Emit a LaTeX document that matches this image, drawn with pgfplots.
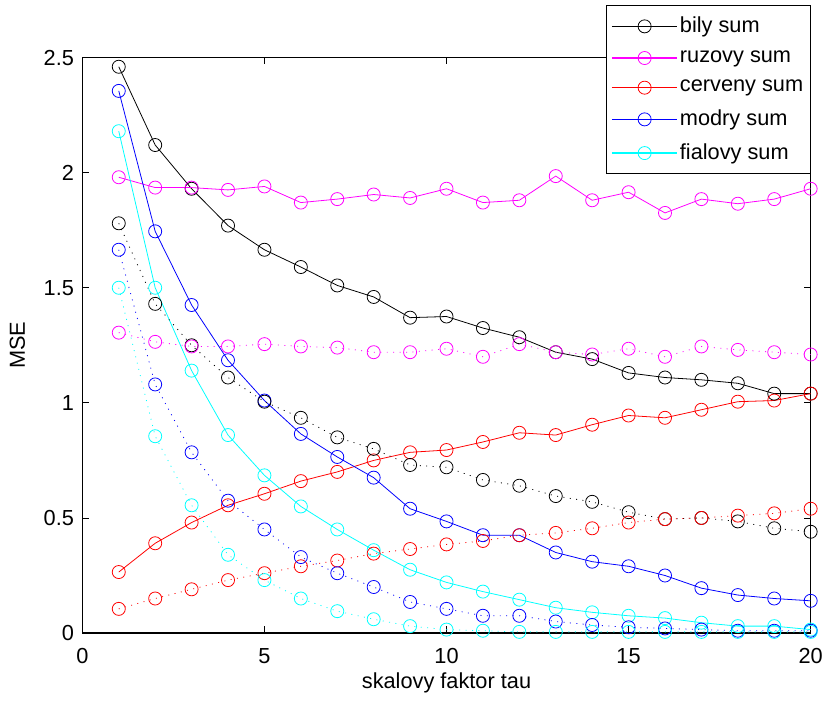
\documentclass[border=0pt]{standalone}
\usepackage{pgfplots}
\pgfplotsset{compat=1.18}
\usepackage{fontspec}
\setmainfont{Liberation Sans}
\definecolor{mmag}{rgb}{1,0,1}
\definecolor{mcyan}{rgb}{0,1,1}
\begin{document}
\fontsize{22}{26}\selectfont
\begin{tikzpicture}
\begin{axis}[
  scale only axis, width=734bp, height=580bp,
  xmin=0, xmax=20, ymin=0, ymax=2.5,
  xtick={0,5,10,15,20}, ytick={0,0.5,1,1.5,2,2.5},
  tick align=inside, tickpos=both, major tick length=7bp,
  axis line style={line width=1.3pt}, tick style={line width=0.8pt, black},
  /pgf/number format/assume math mode=true,
  tick label style={font=\fontsize{22}{26}\selectfont},
  label style={font=\fontsize{22}{26}\selectfont},
  yticklabel style={/pgf/number format/fixed, xshift=-1bp},
  xticklabel style={yshift=-8bp},
  xlabel={skalovy faktor tau}, ylabel={MSE},
  xlabel style={yshift=6bp}, ylabel style={yshift=4bp},
  every axis plot/.append style={line width=0.8pt, mark=o, mark size=6.6pt, mark options={solid, line width=0.8pt}},
  dotty/.style={dash pattern=on 1pt off 5.5pt, forget plot},
  legend cell align=left,
  legend style={at={(rel axis cs:1,1.0914)}, anchor=north east, draw=black, line width=1pt, fill=white,
    inner xsep=5bp, inner ysep=9.5bp, row sep=10.8bp, font=\fontsize{22}{26}\selectfont,
    nodes={inner sep=2bp}},
  legend image code/.code={\draw[solid, line width=1.2pt, mark repeat=2, mark phase=2, mark options={line width=0.8pt}] plot coordinates {(0bp,0bp) (33bp,0bp) (66bp,0bp)};},
]
\addplot[black] coordinates {(1,2.46)(2,2.12)(3,1.93)(4,1.77)(5,1.665)(6,1.59)(7,1.51)(8,1.46)(9,1.37)(10,1.375)(11,1.325)(12,1.285)(13,1.22)(14,1.19)(15,1.13)(16,1.11)(17,1.10)(18,1.085)(19,1.04)(20,1.04)};
\addlegendentry{bily sum}
\addplot[mmag] coordinates {(1,1.98)(2,1.935)(3,1.935)(4,1.925)(5,1.94)(6,1.87)(7,1.885)(8,1.905)(9,1.89)(10,1.93)(11,1.87)(12,1.88)(13,1.985)(14,1.88)(15,1.915)(16,1.825)(17,1.885)(18,1.865)(19,1.885)(20,1.93)};
\addlegendentry{ruzovy sum}
\addplot[red] coordinates {(1,0.265)(2,0.39)(3,0.48)(4,0.555)(5,0.605)(6,0.66)(7,0.70)(8,0.75)(9,0.785)(10,0.795)(11,0.83)(12,0.87)(13,0.86)(14,0.905)(15,0.945)(16,0.935)(17,0.97)(18,1.005)(19,1.01)(20,1.04)};
\addlegendentry{cerveny sum}
\addplot[blue] coordinates {(1,2.355)(2,1.745)(3,1.425)(4,1.185)(5,1.01)(6,0.865)(7,0.765)(8,0.675)(9,0.54)(10,0.485)(11,0.425)(12,0.425)(13,0.35)(14,0.31)(15,0.29)(16,0.25)(17,0.195)(18,0.165)(19,0.15)(20,0.14)};
\addlegendentry{modry sum}
\addplot[mcyan] coordinates {(1,2.18)(2,1.50)(3,1.14)(4,0.86)(5,0.685)(6,0.55)(7,0.45)(8,0.36)(9,0.275)(10,0.22)(11,0.18)(12,0.145)(13,0.11)(14,0.09)(15,0.075)(16,0.065)(17,0.045)(18,0.03)(19,0.03)(20,0.015)};
\addlegendentry{fialovy sum}
\addplot[black, dotty] coordinates {(1,1.78)(2,1.43)(3,1.25)(4,1.11)(5,1.005)(6,0.935)(7,0.85)(8,0.80)(9,0.73)(10,0.72)(11,0.665)(12,0.64)(13,0.595)(14,0.57)(15,0.525)(16,0.495)(17,0.50)(18,0.485)(19,0.455)(20,0.44)};
\addplot[mmag, dotty] coordinates {(1,1.305)(2,1.265)(3,1.245)(4,1.245)(5,1.255)(6,1.245)(7,1.24)(8,1.22)(9,1.22)(10,1.235)(11,1.20)(12,1.255)(13,1.22)(14,1.21)(15,1.235)(16,1.20)(17,1.245)(18,1.23)(19,1.22)(20,1.21)};
\addplot[red, dotty] coordinates {(1,0.105)(2,0.15)(3,0.19)(4,0.23)(5,0.26)(6,0.29)(7,0.315)(8,0.345)(9,0.365)(10,0.385)(11,0.40)(12,0.425)(13,0.435)(14,0.455)(15,0.48)(16,0.495)(17,0.50)(18,0.51)(19,0.52)(20,0.54)};
\addplot[blue, dotty] coordinates {(1,1.665)(2,1.08)(3,0.785)(4,0.575)(5,0.45)(6,0.33)(7,0.26)(8,0.20)(9,0.135)(10,0.105)(11,0.075)(12,0.075)(13,0.05)(14,0.035)(15,0.025)(16,0.02)(17,0.015)(18,0.01)(19,0.01)(20,0.01)};
\addplot[mcyan, dotty] coordinates {(1,1.50)(2,0.855)(3,0.555)(4,0.34)(5,0.23)(6,0.15)(7,0.095)(8,0.06)(9,0.03)(10,0.015)(11,0.01)(12,0.005)(13,0.005)(14,0.005)(15,0.005)(16,0.005)(17,0.005)(18,0.005)(19,0.005)(20,0.005)};
\end{axis}
\path (current axis.south west) ++(-83bp,-65bp) coordinate (bbA);
\path (current axis.north east) ++(13bp,58bp) coordinate (bbB);
\path (bbA) rectangle (bbB);
\end{tikzpicture}
\end{document}
